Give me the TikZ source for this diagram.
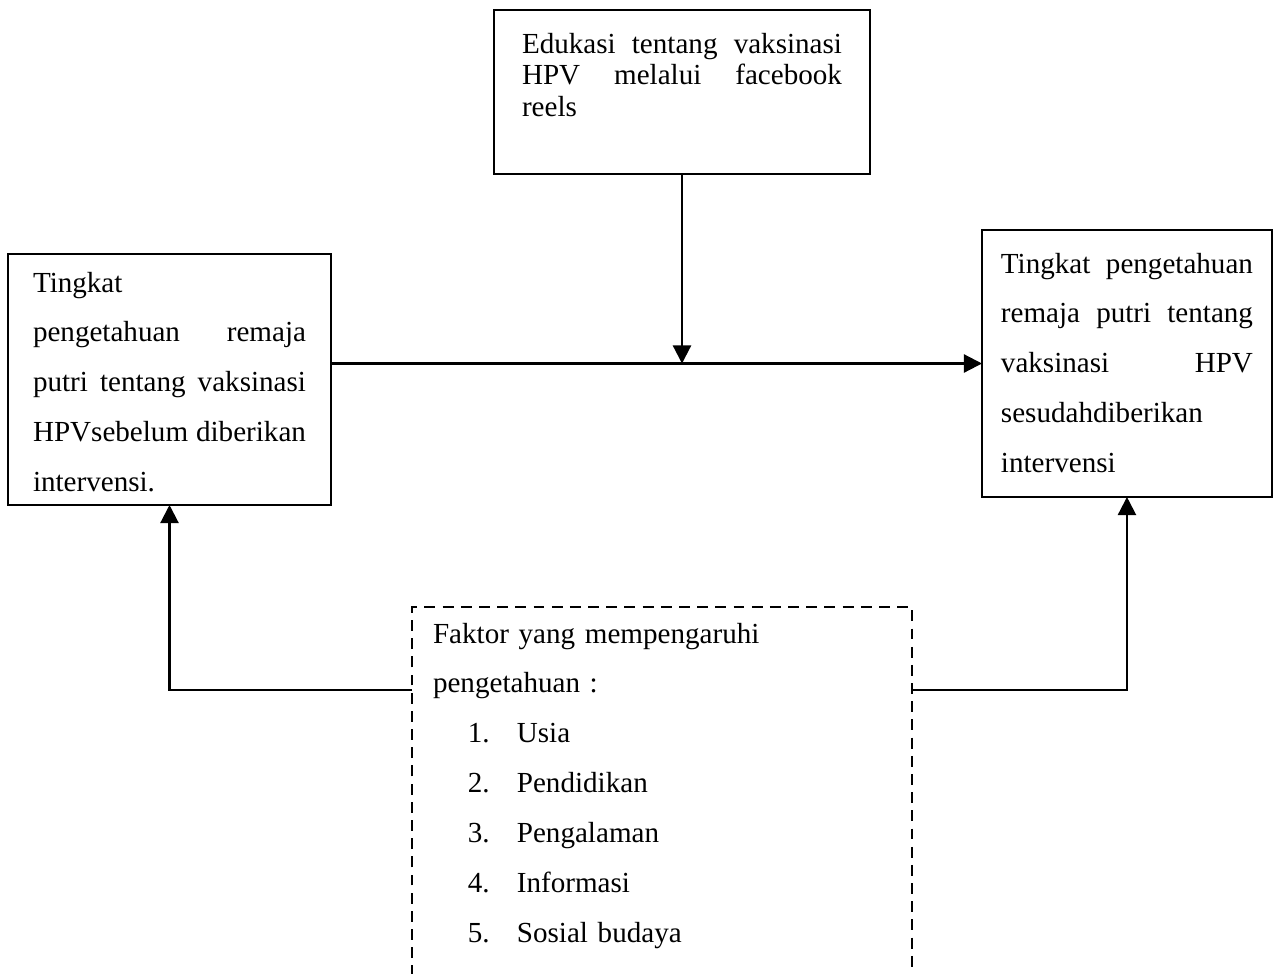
\documentclass[tikz,border=0pt]{standalone}
\usepackage{fontspec}
\setmainfont{Liberation Serif}
\usepackage{tikz}
\usetikzlibrary{positioning, calc}
\usetikzlibrary{arrows.meta}
\tikzstyle{kotak}=[rectangle,draw=black,line width=0.9pt,inner xsep=0pt,inner ysep=0pt,outer sep=0pt,anchor=north west,align=left,font=\fontsize{12pt}{20.6pt}\selectfont]
\tikzstyle{kotakputus}=[kotak,draw=none]
\tikzstyle{garisputus}=[line width=0.9pt,dash pattern=on 4.5pt off 3pt]
\tikzstyle{edgepath}=[-{Triangle[length=7.5pt,width=7.5pt]},line width=0.9pt]
\newcommand{\butir}[2]{\hspace*{14.4pt}\makebox[20.2pt][l]{#1}#2}

\begin{document}
\begin{tikzpicture}[x=0.4125pt,y=-0.4125pt]
        \useasboundingbox (0,0) rectangle (1274,973);

        \node[kotak, font=\fontsize{12pt}{13pt}\selectfont, minimum width=155.1pt, text width=132pt, text height=17.74pt, text depth=49.91pt] (edukasi) at (494,10)
            {Edukasi\hfill tentang\hfill vaksinasi\\ HPV\hfill melalui\hfill facebook\\ reels};
        \node[kotak, minimum width=133.24pt, text width=112.61pt, text height=15.68pt, text depth=87.86pt] (sebelum) at (8,254)
            {Tingkat\\ pengetahuan\hfill remaja\\ putri\hfill tentang\hfill vaksinasi\\ HPVsebelum\hfill diberikan\\ intervensi.};
        \node[kotak, minimum width=119.6pt, text width=103.95pt, text height=17.74pt, text depth=92.4pt] (sesudah) at (982,230)
            {Tingkat\hfill pengetahuan\\ remaja\hfill putri\hfill tentang\\ vaksinasi\hfill HPV\\ sesudahdiberikan\\ intervensi};
        \node[kotakputus, minimum width=206.25pt, text width=188.9pt, text height=14.85pt, text depth=160pt] (faktor) at (412,607)
            {Faktor yang mempengaruhi\\ pengetahuan :\\ \butir{1.}{Usia}\\ \butir{2.}{Pendidikan}\\ \butir{3.}{Pengalaman}\\ \butir{4.}{Informasi}\\ \butir{5.}{Sosial budaya}};
        \coordinate (lintas) at (0,690);

        % kotak faktor, bawahnya terbuka
        \draw[garisputus] (faktor.south west) -- (faktor.north west) -- (faktor.north east) -- (faktor.south east);

        \draw[edgepath] (sebelum.east |- sesudah.west) -- (sesudah.west);
        \draw[edgepath] (edukasi.south) -- (edukasi.south |- sesudah.west);
        \draw[edgepath] (faktor.west |- lintas) -| (sebelum.south);
        \draw[edgepath] (faktor.east |- lintas) -| (sesudah.south);
\end{tikzpicture}
\end{document}
